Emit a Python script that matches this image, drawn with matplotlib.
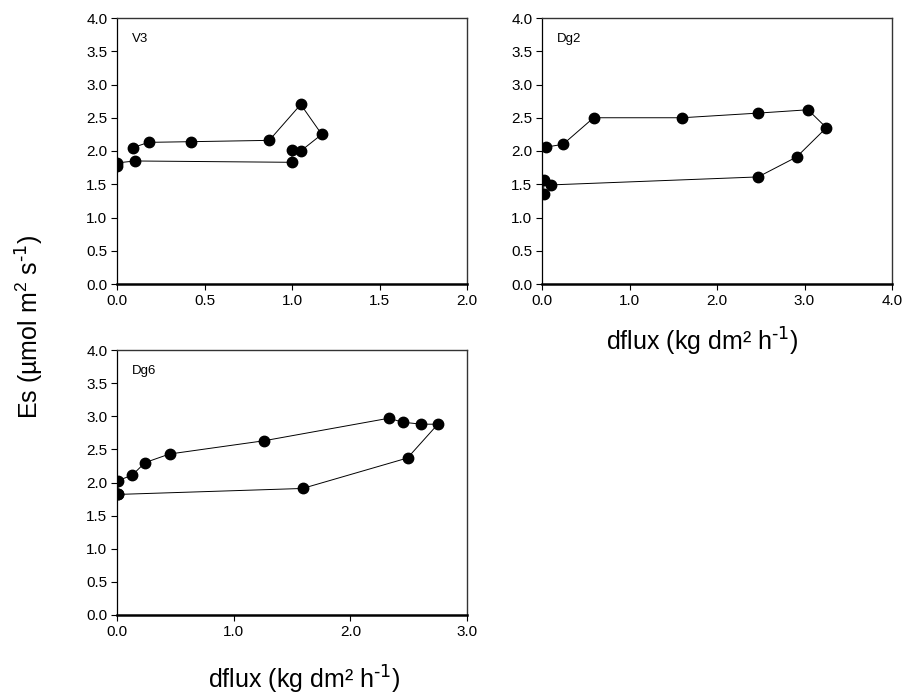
import matplotlib
matplotlib.use("Agg")
import matplotlib.pyplot as plt

plt.rcParams['font.family'] = ['Liberation Sans', 'DejaVu Sans']
plt.rcParams['mathtext.default'] = 'regular'

# V3 panel
v3_x = [0.00, 0.00, 0.10, 1.00, 1.00, 1.05, 1.17, 1.05, 0.87, 0.42, 0.18, 0.09]
v3_y = [1.78, 1.82, 1.85, 1.83, 2.02, 2.00, 2.25, 2.70, 2.16, 2.14, 2.13, 2.05]

# Dg2 panel
dg2_x = [0.02, 0.02, 0.10, 2.47, 2.91, 3.25, 3.04, 2.47, 1.60, 0.59, 0.24, 0.05]
dg2_y = [1.36, 1.56, 1.49, 1.61, 1.91, 2.35, 2.62, 2.57, 2.50, 2.50, 2.10, 2.06]

# Dg6 panel
dg6_x = [0.01, 1.59, 2.49, 2.75, 2.61, 2.45, 2.33, 1.26, 0.45, 0.24, 0.13, 0.01, 0.01]
dg6_y = [1.82, 1.91, 2.37, 2.88, 2.88, 2.91, 2.97, 2.63, 2.43, 2.30, 2.11, 2.03, 1.82]

y_ticks = [0.0, 0.5, 1.0, 1.5, 2.0, 2.5, 3.0, 3.5, 4.0]

panels = [
    ("V3", v3_x, v3_y, [0.0, 0.5, 1.0, 1.5, 2.0], [117, 18, 467, 284]),
    ("Dg2", dg2_x, dg2_y, [0.0, 1.0, 2.0, 3.0, 4.0], [542, 18, 892, 284]),
    ("Dg6", dg6_x, dg6_y, [0.0, 1.0, 2.0, 3.0], [117, 350, 467, 615]),
]

W, H = 905, 700
fig = plt.figure(figsize=(W / 100, H / 100), dpi=100)

for name, xs, ys, xt, (x0, y0, x1, y1) in panels:
    ax = fig.add_axes([x0 / W, 1 - y1 / H, (x1 - x0) / W, (y1 - y0) / H])
    ax.plot(xs, ys, color='black', linewidth=0.7, marker='o',
            markersize=7.5, markerfacecolor='black', markeredgecolor='black')
    ax.set_xlim(xt[0], xt[-1])
    ax.set_ylim(0, 4)
    ax.set_xticks(xt)
    ax.set_xticklabels([f"{v:.1f}" for v in xt])
    ax.set_yticks(y_ticks)
    ax.set_yticklabels([f"{v:.1f}" for v in y_ticks])
    ax.tick_params(direction='out', length=4, width=0.8, labelsize=11, pad=3,
                   top=False, right=False)
    ax.spines['bottom'].set_linewidth(1.8)
    ax.spines['left'].set_linewidth(0.9)
    for s in ['top', 'right']:
        ax.spines[s].set_linewidth(1.0)
        ax.spines[s].set_color('#333333')
    ax.text(0.043, 0.945, name, transform=ax.transAxes, fontsize=9.5,
            va='top', ha='left')

fig.text(30 / W, 1 - 327 / H, 'Es (µmol m$^{2}$ s$^{\\text{-1}}$)', rotation=90,
         ha='center', va='center', fontsize=18)
fig.text(702 / W, 1 - 342 / H, 'dflux (kg dm² h$^{\\text{-1}}$)',
         ha='center', va='center', fontsize=18)
fig.text(304 / W, 1 - 680 / H, 'dflux (kg dm² h$^{\\text{-1}}$)',
         ha='center', va='center', fontsize=18)

fig.savefig("out.png", dpi=100)
